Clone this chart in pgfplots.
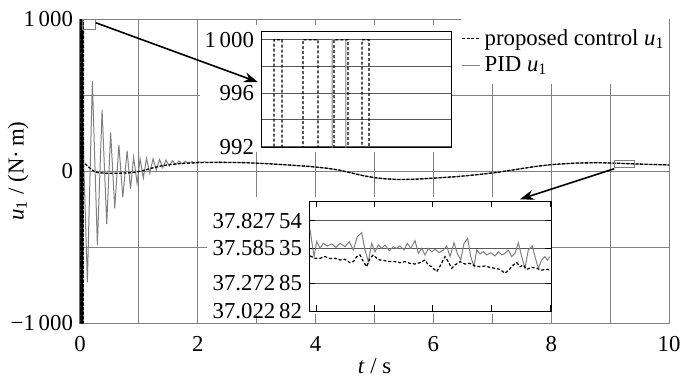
\documentclass[border=0pt]{standalone}
\usepackage{fontspec}
\setmainfont{Liberation Serif}
\usepackage{pgfplots}
\pgfplotsset{compat=1.18}
\usepackage{pgfplotstable}
\usetikzlibrary{arrows.meta}
\newcommand{\fs}{\fontsize{11.4}{13}\selectfont}
\definecolor{gridc}{gray}{0.5}
\definecolor{pidc}{gray}{0.5}

\pgfplotstableread{
t v
0 -1000
0.0068 -1000
0.0068 1000
0.011 1000
0.011 -1000
0.0221 -1000
0.0221 1000
0.030 1000
0.030 -1000
0.0384 -1000
0.0384 1000
0.0458 1000
0.0458 -1000
0.0532 -1000
0.0532 1000
0.0568 1000
0.058 55
0.1 42
0.15 25
0.2 8
0.25 -4
0.3 -10
0.4 -14
0.6 -15
0.8 -13
0.95 -8
1.0 -3
1.1 6
1.2 17
1.3 27
1.4 35
1.5 41
1.7 49
2.0 55
2.4 57
2.8 55
3.2 48
3.6 38
3.9 30
4.2 18
4.4 6
4.6 -12
4.8 -30
5.0 -44
5.2 -52
5.4 -56
5.7 -54
6.0 -47
6.4 -37
6.8 -22
7.1 -8
7.4 10
7.7 28
8.0 42
8.4 52
8.8 55
9.2 50
9.6 44
10 40
}\proposed

\pgfplotstableread{
t v
0 0
0.0374 0
0.0374 1000
0.0447 1000
0.0447 300
0.125 -733
0.21 592
0.295 -487
0.375 401
0.454 -349
0.52 254
0.59 -246
0.66 171
0.727 -173
0.80 134
0.857 -118
0.91 90
0.97 -81
1.02 80
1.075 -45
1.13 82
1.185 -15
1.24 80
1.295 8
1.35 76
1.405 22
1.46 72
1.515 33
1.57 68
1.625 41
1.68 66
1.735 47
1.79 64
1.845 51
1.90 62
1.955 53
2.01 61
2.065 55
2.12 60
2.175 56
2.23 59
2.4 57
2.8 55
3.2 48
3.6 38
3.9 30
4.2 18
4.4 6
4.6 -12
4.8 -30
5.0 -44
5.2 -52
5.4 -56
5.7 -54
6.0 -47
6.4 -37
6.8 -22
7.1 -8
7.4 10
7.7 28
8.0 42
8.4 52
8.8 55
9.2 50
9.6 44
10 40
}\pid

\pgfplotstableread{
t v
9.201 37.753
9.205 37.509
9.2077 37.643
9.211 37.583
9.2143 37.628
9.2183 37.604
9.2227 37.622
9.227 37.592
9.231 37.628
9.236 37.598
9.2403 37.643
9.2443 37.568
9.2483 37.687
9.2527 37.723
9.256 37.568
9.2593 37.464
9.2627 37.628
9.266 37.553
9.2693 37.613
9.2727 37.583
9.276 37.613
9.2803 37.562
9.2843 37.598
9.2877 37.583
9.291 37.604
9.295 37.568
9.2983 37.628
9.3017 37.583
9.306 37.652
9.3093 37.538
9.3127 37.583
9.316 37.524
9.3193 37.583
9.3227 37.553
9.326 37.574
9.3303 37.544
9.3343 37.568
9.3377 37.604
9.341 37.509
9.345 37.634
9.3483 37.538
9.3517 37.479
9.355 37.628
9.3587 37.673
9.3617 37.509
9.365 37.419
9.3677 37.568
9.371 37.533
9.3743 37.553
9.3777 37.524
9.3817 37.544
9.386 37.515
9.3893 37.553
9.3927 37.524
9.396 37.538
9.3993 37.568
9.4027 37.509
9.406 37.538
9.4093 37.634
9.4127 37.509
9.416 37.404
9.4193 37.568
9.4233 37.604
9.426 37.509
9.4293 37.404
9.4327 37.479
9.436 37.509
9.4383 37.479
9.441 37.509
}\pidzoom

\pgfplotstableread{
t v
9.201 37.515
9.206 37.494
9.211 37.494
9.216 37.509
9.221 37.491
9.226 37.494
9.231 37.479
9.236 37.485
9.241 37.455
9.2443 37.464
9.2477 37.509
9.251 37.524
9.2543 37.464
9.2577 37.419
9.261 37.494
9.2643 37.524
9.2677 37.494
9.271 37.479
9.276 37.473
9.281 37.464
9.286 37.464
9.291 37.455
9.296 37.464
9.301 37.449
9.306 37.443
9.311 37.455
9.316 37.479
9.3193 37.434
9.3227 37.419
9.3277 37.375
9.3317 37.434
9.336 37.509
9.3393 37.464
9.3427 37.404
9.346 37.434
9.351 37.464
9.356 37.443
9.361 37.449
9.366 37.425
9.371 37.419
9.376 37.425
9.381 37.413
9.386 37.404
9.391 37.395
9.396 37.360
9.4003 37.395
9.4043 37.434
9.4077 37.455
9.411 37.419
9.4143 37.434
9.4177 37.395
9.4227 37.413
9.4277 37.404
9.4327 37.389
9.4377 37.395
9.441 37.389
}\propzoom

\begin{document}
\begin{tikzpicture}
\path[use as bounding box] (-40pt,-29.5pt) rectangle (310pt,161.5pt);
\begin{axis}[
  at={(0pt,0pt)}, anchor=south west, width=294.5pt, height=152pt, scale only axis,
  xmin=0, xmax=10, ymin=-1000, ymax=1000,
  xtick={0,2,4,6,8,10}, xticklabels={0,2,4,6,8,10},
  minor xtick={1,3,5,7,9},
  ytick={-1000,-500,0,500,1000}, yticklabels={−1\,000,,0,,1\,000},
  grid=both,
  major grid style={gridc, line width=0.5pt},
  minor grid style={gridc, line width=0.5pt},
  axis line style={gridc, line width=0.5pt},
  major tick length=0pt, minor tick length=0pt,
  tick label style={font=\fs}, label style={font=\fs},
  xticklabel shift=3pt,
  xlabel={\textit{t} / s}, ylabel={\textit{u}\textsubscript{1} / (N·\,m)},
  xlabel style={at={(axis description cs:0.5,0)}, anchor=center, yshift=-21.5pt},
  ylabel style={at={(axis description cs:-0.105,0.5)}, anchor=center},
  legend style={at={(axis description cs:1,1)}, anchor=north east, draw=none, fill=white,
    font=\fs, inner xsep=0pt, inner ysep=3pt, row sep=0pt},
  legend cell align=left,
  legend image code/.code={\draw[#1] (0pt,0pt) -- (9pt,0pt);},
  clip mode=individual,
]
\addplot[pidc, line width=0.5pt, forget plot] table {\pid};
\addplot[black, dash pattern=on 1.5pt off 0.8pt, line width=0.65pt] table {\proposed};
\addlegendentry{proposed control \textit{u}\textsubscript{1}}
\addlegendimage{pidc, line width=0.5pt}
\addlegendentry{PID \textit{u}\textsubscript{1}}
\draw[gridc, line width=0.5pt] (axis cs:0.034,934) rectangle (axis cs:0.27,1000);
\draw[gridc, line width=0.5pt] (axis cs:9.07,20) rectangle (axis cs:9.41,66);
\coordinate (a1s) at (axis cs:0.27,975);
\coordinate (a1e) at (axis cs:3.02,585);
\coordinate (a2s) at (axis cs:9.07,15);
\coordinate (a2e) at (axis cs:7.47,-186);
\end{axis}

% inset 1
\fill[white] (60pt,85.5pt) rectangle (185.5pt,149pt);
\begin{axis}[
  at={(90.5pt,87.5pt)}, anchor=south west, width=95pt, height=58pt, scale only axis,
  xmin=0, xmax=0.1, ymin=991.93, ymax=1000.6,
  xtick=\empty, ytick={992,994,996,998,1000}, yticklabels={992,,996,,1\,000},
  ymajorgrids, major grid style={black!65, line width=0.5pt},
  major tick length=0pt, axis line style={black, line width=0.5pt},
  tick label style={font=\fs},
  axis background/.style={fill=white},
]
\addplot[pidc, line width=0.5pt] table {\pid};
\addplot[black, dash pattern=on 1.5pt off 1pt, line width=0.6pt] table {\proposed};
\end{axis}

% inset 2
\fill[white] (63.5pt,4.5pt) rectangle (235.5pt,63pt);
\begin{axis}[
  at={(114.5pt,6pt)}, anchor=south west, width=121pt, height=55pt, scale only axis,
  xmin=9.2, xmax=9.442, ymin=37.02282, ymax=38.006,
  xtick={9.207,9.265,9.323,9.382,9.441}, xticklabels={},
  tick align=inside, major tick length=3pt,
  ytick={37.02282,37.27285,37.58535,37.82754},
  yticklabels={37.022\,82,37.272\,85,37.585\,35,37.827\,54},
  ymajorgrids, major grid style={black!65, line width=0.5pt},
  axis line style={black, line width=0.5pt}, tick style={black, line width=0.5pt},
  tick label style={font=\fs},
  axis background/.style={fill=white},
]
\addplot[pidc, line width=0.5pt] table {\pidzoom};
\addplot[black, dash pattern=on 1.5pt off 1pt, line width=0.6pt] table {\propzoom};
\end{axis}

\draw[black, line width=0.8pt, -{Stealth[length=7pt,width=5pt]}] (a1s) -- (a1e);
\draw[black, line width=0.8pt, -{Stealth[length=7pt,width=5pt]}] (a2s) -- (a2e);
\end{tikzpicture}
\end{document}
